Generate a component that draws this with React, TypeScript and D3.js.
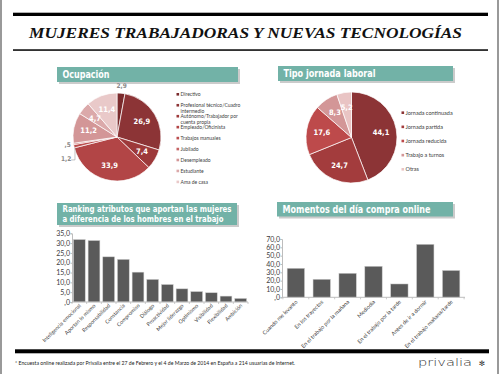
import { useEffect, useRef } from "react";
import * as d3 from "d3";

// Ocupación pie
const occupationLabels = [
  "Directivo",
  "Profesional técnico/Cuadro\nintermedio",
  "Autónomo/Trabajador por\ncuenta propia",
  "Empleado/Oficinista",
  "Trabajos manuales",
  "Jubilado",
  "Desempleado",
  "Estudiante",
  "Ama de casa",
];
const occupationValues = [2.9, 26.9, 7.4, 33.9, 1.2, 0.5, 11.2, 4.7, 11.4];
const occupationColors = [
  "#7a2a2c", "#8c3436", "#9d393a", "#b24546", "#bb4e4f",
  "#c56465", "#d39697", "#dba9aa", "#e9c9c9",
];

// Tipo jornada pie
const shiftLabels = [
  "Jornada continuada",
  "Jornada partida",
  "Jornada reducida",
  "Trabajo a turnos",
  "Otras",
];
const shiftValues = [44.1, 24.7, 17.6, 8.3, 5.2];
const shiftColors = ["#8c3436", "#a33c3d", "#bd4a4b", "#d39697", "#e9c4c4"];

// Ranking atributos
const attributeLabels = [
  "Inteligencia emocional", "Aportan lo mismo", "Responsabilidad", "Constancia",
  "Compromiso", "Diálogo", "Proactividad", "Mejor liderazgo", "Optimismo",
  "Visibilidad", "Flexibilidad", "Ambición",
];
const attributeValues = [31.8, 31.3, 23.0, 21.7, 15.2, 11.5, 8.9, 6.7, 5.3, 4.7, 3.0, 1.8];
const attributeTicks = [0, 5, 10, 15, 20, 25, 30, 35];

// Momentos del día
const momentLabels = [
  "Cuando me levanto", "En los trayectos", "En el trabajo por la mañana",
  "Mediodía", "En el trabajo por la tarde", "Antes de ir a dormir",
  "En el trabajo mañana/tarde",
];
const momentValues = [34.8, 21.6, 28.8, 37.2, 16.0, 63.6, 32.2];
const momentTicks = [0, 10, 20, 30, 40, 50, 60, 70];

const TEAL = "#72b2a7";
const HEAD_FONT = "'Liberation Sans Narrow', 'DejaVu Sans Condensed', 'Roboto Condensed', sans-serif";
const SMALL_FONT = "Lato, 'Open Sans', sans-serif";

// spanish number format: 26,9 / ,5 / ,0
const fmt = (v: number) => {
  const s = d3.format(".1f")(v).replace(".", ",");
  return s.startsWith("0,") ? s.slice(1) : s;
};

export default function App() {
  const svgRef = useRef<SVGSVGElement>(null);

  useEffect(() => {
    const svg = d3.select(svgRef.current);
    svg.selectAll("*").remove();

    svg.append("rect").attr("width", 500).attr("height", 374).attr("fill", "#fff");
    // page border
    svg.append("line").attr("x1", 1).attr("x2", 1).attr("y1", 0).attr("y2", 374).attr("stroke", "#777").attr("stroke-width", 1.5);
    svg.append("line").attr("x1", 498).attr("x2", 498).attr("y1", 0).attr("y2", 374).attr("stroke", "#777").attr("stroke-width", 1.5);

    // Title block
    svg.append("rect").attr("x", 13).attr("y", 12.7).attr("width", 475).attr("height", 3.3).attr("fill", "#000");
    svg.append("text")
      .attr("x", 29).attr("y", 37.5)
      .attr("textLength", 433).attr("lengthAdjust", "spacingAndGlyphs")
      .style("font-family", "'Liberation Serif', 'Times New Roman', serif")
      .style("font-style", "italic")
      .style("font-weight", "bold")
      .style("font-size", "15px")
      .attr("fill", "#111")
      .text("MUJERES TRABAJADORAS Y NUEVAS TECNOLOGÍAS");
    svg.append("rect").attr("x", 13).attr("y", 49.3).attr("width", 475).attr("height", 1.5).attr("fill", "#000");

    // Section headers
    const header = (x: number, y: number, w: number, h: number, lines: string[], widths: number[], size: number, baselines: number[]) => {
      const g = svg.append("g");
      g.append("rect").attr("x", x + 2).attr("y", y + 2).attr("width", w).attr("height", h).attr("fill", "#a9a9a9").attr("opacity", 0.6);
      g.append("rect").attr("x", x).attr("y", y).attr("width", w).attr("height", h).attr("fill", TEAL);
      lines.forEach((t, i) => {
        g.append("text")
          .attr("x", x + 5.5)
          .attr("y", y + baselines[i])
          .attr("textLength", widths[i]).attr("lengthAdjust", "spacingAndGlyphs")
          .style("font-family", HEAD_FONT)
          .style("font-weight", "bold")
          .style("font-size", `${size}px`)
          .attr("fill", "#fff")
          .text(t);
      });
    };
    header(57, 67, 181, 15, ["Ocupación"], [47], 11, [11]);
    header(278, 66, 175, 15, ["Tipo jornada laboral"], [92], 11, [11]);
    header(57, 203, 180, 22, ["Ranking atributos que aportan las mujeres", "a diferencia de los hombres en el trabajo"], [169, 161], 9.5, [8.6, 19.2]);
    header(277, 202, 176, 14.5, ["Momentos del día compra online"], [148], 10.5, [10.8]);

    // Pies
    const drawPie = (
      values: number[], colors: string[], cx: number, cy: number, r: number,
      labels: string[], legendX: number, legendY: number, legendStep: number, legendSize: number,
      outside: (i: number) => [number, number] | null
    ) => {
      const g = svg.append("g").attr("transform", `translate(${cx},${cy})`);
      const arcs = d3.pie<number>().sort(null).value((d) => d)(values);
      const arc = d3.arc<d3.PieArcDatum<number>>().innerRadius(0).outerRadius(r);
      g.selectAll("path").data(arcs).join("path")
        .attr("d", arc)
        .attr("fill", (_, i) => colors[i])
        .attr("stroke", "#fff").attr("stroke-width", 0.7);
      const labelArc = d3.arc<d3.PieArcDatum<number>>().innerRadius(r * 0.66).outerRadius(r * 0.66);
      arcs.forEach((a, i) => {
        const mid = (a.startAngle + a.endAngle) / 2;
        const off = outside(i);
        if (off) {
          const px = Math.sin(mid) * (r + off[0]);
          const py = -Math.cos(mid) * (r + off[0]) + off[1];
          g.append("text").attr("x", px).attr("y", py)
            .attr("text-anchor", "middle").attr("dominant-baseline", "central")
            .style("font-family", HEAD_FONT).style("font-weight", "bold").style("font-size", "6.5px")
            .attr("fill", "#8a8a8a").text(fmt(values[i]));
          if (off[1] !== 0) {
            const ex = Math.sin(mid) * r, ey = -Math.cos(mid) * r;
            g.append("polyline")
              .attr("points", `${px + 5},${py + 1} ${ex + 1},${py + 1} ${ex + 1},${ey + 1}`)
              .attr("fill", "none").attr("stroke", "#999").attr("stroke-width", 0.6);
          }
        } else {
          const [lx, ly] = labelArc.centroid(a);
          g.append("text").attr("x", lx).attr("y", ly)
            .attr("text-anchor", "middle").attr("dominant-baseline", "central")
            .style("font-family", HEAD_FONT).style("font-weight", "bold").style("font-size", "7.5px")
            .attr("fill", "#fff").text(fmt(values[i]));
        }
      });
      labels.forEach((t, i) => {
        const y = legendY + i * legendStep;
        svg.append("rect").attr("x", legendX).attr("y", y - 1.3).attr("width", 2.6).attr("height", 2.6).attr("fill", colors[i]);
        t.split("\n").forEach((line, j) => {
          svg.append("text").attr("x", legendX + 4).attr("y", y + j * legendSize * 1.2)
            .attr("dominant-baseline", "central")
            .style("font-family", SMALL_FONT).style("font-size", `${legendSize}px`)
            .attr("fill", "#404040").text(line);
        });
      });
    };

    drawPie(occupationValues, occupationColors, 117, 137, 44, occupationLabels, 176.5, 94.3, 10.95, 5,
      (i) => (i === 0 ? [7, 0] : i === 5 ? [6, 0] : i === 4 ? [8, 11] : null));
    drawPie(shiftValues, shiftColors, 351.5, 137.5, 45.5, shiftLabels, 401.5, 112.7, 14.15, 5.5, () => null);

    // Bar charts
    const drawBars = (
      labels: string[], values: number[], ticks: number[],
      x0: number, x1: number, yBottom: number, yTop: number,
      padIn: number, padOut: number, labelSize: number, labelDy: number
    ) => {
      const xScale = d3.scaleBand().domain(labels).range([x0, x1]).paddingInner(padIn).paddingOuter(padOut);
      const yScale = d3.scaleLinear().domain([0, ticks[ticks.length - 1]]).range([yBottom, yTop]);
      const g = svg.append("g");

      const yAxis = g.append("g").attr("transform", `translate(${x0},0)`)
        .call(d3.axisLeft(yScale).tickValues(ticks).tickSize(1.5).tickPadding(0.5).tickFormat((d) => fmt(d as number)));
      yAxis.select(".domain").attr("stroke", "#bdbdbd");
      yAxis.selectAll("line").attr("stroke", "#bdbdbd");
      yAxis.selectAll("text").style("font-family", SMALL_FONT).style("font-size", "7px").attr("fill", "#404040");

      g.selectAll("rect.bar").data(values).join("rect")
        .attr("class", "bar")
        .attr("x", (_, i) => xScale(labels[i]) as number)
        .attr("y", (d) => yScale(d))
        .attr("width", xScale.bandwidth())
        .attr("height", (d) => yBottom - yScale(d))
        .attr("fill", "#5a5a5a")
        .attr("stroke", "#c9c9c9").attr("stroke-width", 0.5);

      g.append("line").attr("x1", x0).attr("x2", x1).attr("y1", yBottom).attr("y2", yBottom).attr("stroke", "#bdbdbd").attr("stroke-width", 1);
      const step = xScale.step();
      d3.range(labels.length + 1).forEach((k) => {
        const tx = x0 + xScale.paddingOuter() * step - (xScale.paddingInner() * step) / 2 + k * step;
        g.append("line").attr("x1", tx).attr("x2", tx).attr("y1", yBottom).attr("y2", yBottom + 2).attr("stroke", "#bdbdbd").attr("stroke-width", 0.8);
      });

      labels.forEach((t) => {
        const cx = (xScale(t) as number) + xScale.bandwidth() / 2 + 2;
        g.append("text")
          .attr("transform", `translate(${cx},${yBottom + labelDy}) rotate(-45)`)
          .attr("text-anchor", "end")
          .style("font-family", SMALL_FONT).style("font-size", `${labelSize}px`)
          .attr("fill", "#404040").text(t);
      });
    };

    drawBars(attributeLabels, attributeValues, attributeTicks, 72, 248, 302, 233.3, 0.2, 0.1, 5.3, 4);
    drawBars(momentLabels, momentValues, momentTicks, 282, 465, 297.3, 239, 0.33, 0.2, 5.5, 5);

    // Footer
    svg.append("rect").attr("x", 15).attr("y", 349.3).attr("width", 474).attr("height", 4).attr("fill", "#000");
    svg.append("text").attr("x", 15).attr("y", 364.5)
      .attr("textLength", 280).attr("lengthAdjust", "spacingAndGlyphs")
      .style("font-family", SMALL_FONT).style("font-size", "5px").attr("fill", "#222")
      .text("* Encuesta online realizada por Privalia entre el 27 de Febrero y el 4 de Marzo de 2014 en España a 214 usuarias de Internet.");
    svg.append("text").attr("x", 418).attr("y", 366)
      .attr("textLength", 54).attr("lengthAdjust", "spacingAndGlyphs")
      .style("font-family", "'DejaVu Sans', sans-serif").style("font-size", "11px").style("font-weight", "300")
      .attr("fill", "#333").text("privalia");
    svg.append("text").attr("x", 482).attr("y", 365.5).attr("text-anchor", "middle")
      .style("font-family", "'DejaVu Sans', sans-serif").style("font-size", "7.5px")
      .attr("fill", "#333").text("✻");
  }, []);

  return (
    <svg
      ref={svgRef}
      width={500}
      height={374}
      style={{ position: "absolute", left: 0, top: 0 }}
    />
  );
}
